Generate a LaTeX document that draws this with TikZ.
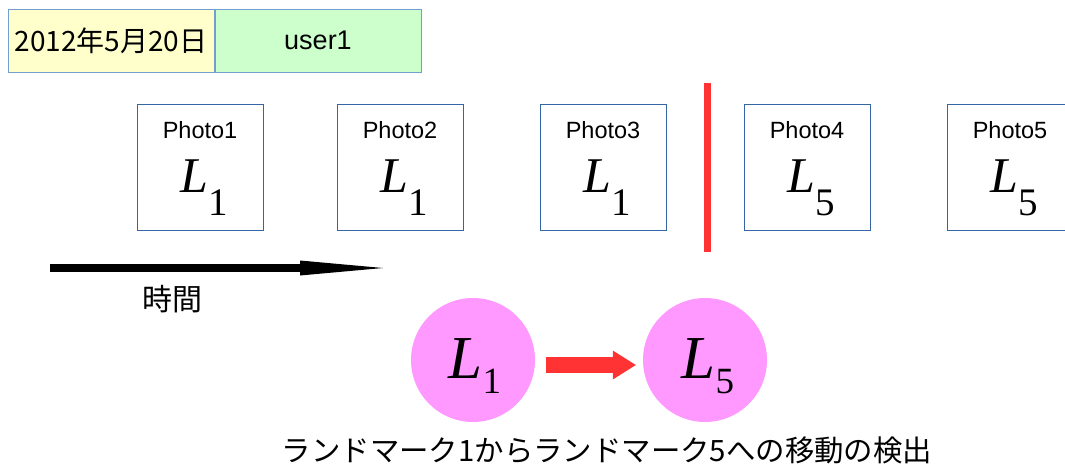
\documentclass[tikz,border=0pt]{standalone}
\usepackage{fontspec}
\newfontfamily\cjkfont{Noto Sans CJK JP}
\newfontfamily\arialfont{Liberation Sans}
\newfontfamily\serifm{Liberation Serif}
\usetikzlibrary{arrows.meta,positioning,calc}
\definecolor{lineblue}{HTML}{3465A4}
\definecolor{lightblue}{HTML}{729FCF}
\definecolor{markred}{HTML}{FF3333}
\definecolor{lmpink}{HTML}{FF99FF}
\definecolor{dateyellow}{HTML}{FFFFCC}
\definecolor{usergreen}{HTML}{CCFFCC}
% landmark symbols: in the photo boxes and in the circles
\newcommand{\boxL}[1]{{\serifm\fontsize{50}{50}\selectfont\itshape L}\kern0pt\raisebox{-23pt}{\serifm\fontsize{39}{39}\selectfont #1}}
\newcommand{\circL}[1]{{\serifm\fontsize{61}{61}\selectfont\itshape L}\kern0pt\raisebox{-15pt}{\serifm\fontsize{37}{37}\selectfont #1}}

\begin{document}
\begin{tikzpicture}[x=1pt,y=-1pt,
  infobox/.style={draw=lightblue,line width=1pt,minimum width=206pt,minimum height=63pt,inner sep=0pt},
  photobox/.style={draw=lineblue,line width=1pt,minimum size=126pt,inner sep=0pt},
  photolbl/.style={font=\arialfont\fontsize{23.5}{23.5}\selectfont,anchor=base,inner sep=0pt},
  landmark/.style={circle,fill=lmpink,minimum size=124pt,inner sep=0pt},
  timearrow/.style={line width=8pt,-{Triangle[length=83pt,width=15pt,line width=0pt]}},
  movearrow/.style={markred,line width=16pt,-{Triangle[length=23pt,width=29pt,line width=0pt]}}]
\useasboundingbox (0,0) rectangle (1065,466);
\clip (0,0) rectangle (1065,466);

% header
\node[infobox,fill=dateyellow,font=\cjkfont\fontsize{28}{28}\selectfont] (date) at (111,40.5) {2012年5月20日};
\node[infobox,fill=usergreen,font=\arialfont\fontsize{27}{27}\selectfont,right=0pt of date] (user) {user1};

% photos in time order
\foreach \n/\x/\k in {1/200/1, 2/400/1, 3/603/1, 4/807/5, 5/1010/5}{
  \node[photobox] (p\n) at (\x,167) {};
  \node[photolbl] (t\n) at (\x,138) {Photo\n};
  \node[anchor=base,inner sep=0pt] (l\n) at (\x+4,192) {\boxL{\k}};
}

% change point
\coordinate (s0) at (707,83);
\coordinate (s1) at (707,252);
\draw[markred,line width=7pt] (s0) -- (s1);

% time axis
\coordinate (t0) at (50,268);
\coordinate (t1) at (383,268);
\draw[timearrow] (t0) -- (t1);
\node[anchor=base,font=\cjkfont\fontsize{30}{30}\selectfont] (tlbl) at (172,310) {時間};

% detected move
\node[landmark] (c1) at (473,360) {};
\node[landmark] (c2) at (705,360) {};
\node[anchor=base,inner sep=0pt] (m1) at (475,378) {\circL{1}};
\node[anchor=base,inner sep=0pt] (m2) at (708,378) {\circL{5}};
\draw[movearrow,shorten <=11pt,shorten >=7pt] ([yshift=-5pt]c1.east) -- ([yshift=-5pt]c2.west);
\node[anchor=base,font=\cjkfont\fontsize{29.4}{29.4}\selectfont] (cap) at (607,461) {ランドマーク1からランドマーク5への移動の検出};
\end{tikzpicture}
\end{document}
